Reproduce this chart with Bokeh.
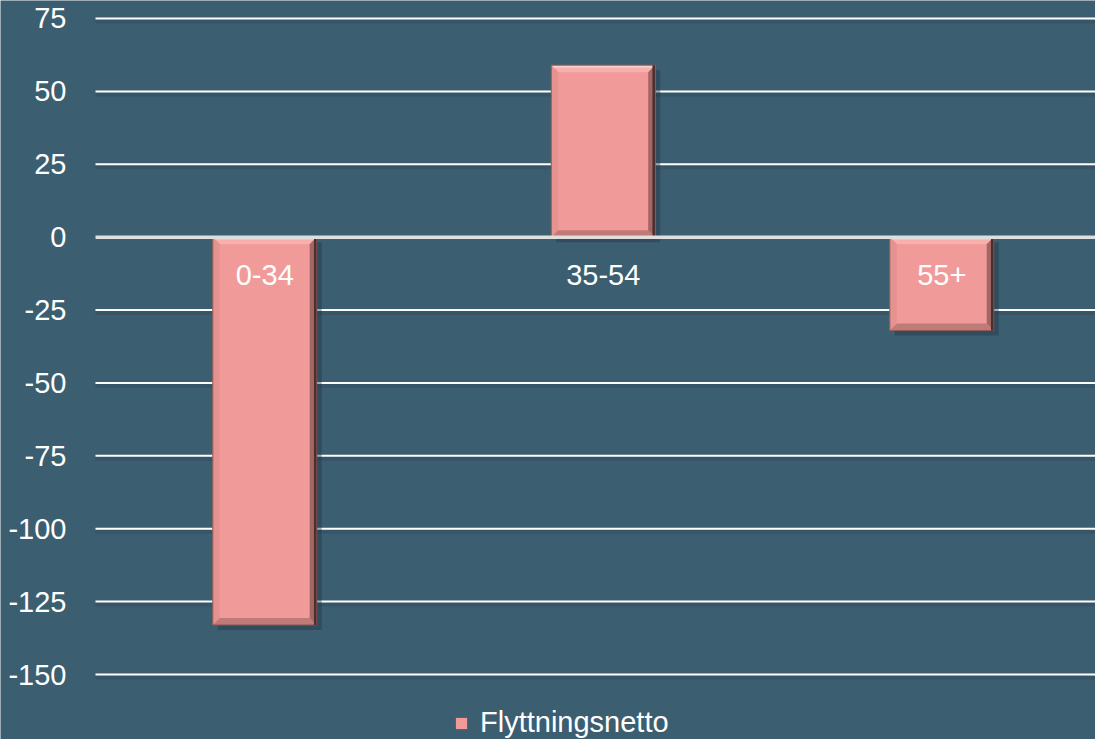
import re
from bokeh.plotting import figure
from bokeh.models import Range1d, Legend, LegendItem, Span
from bokeh.embed import file_html
from bokeh.resources import INLINE
from bokeh.core.properties import value

# ---- data ----
categories = ["0-34", "35-54", "55+"]
values = [-133, 59, -32]
series_name = "Flyttningsnetto"
y_ticks = [75, 50, 25, 0, -25, -50, -75, -100, -125, -150]
y_tick_labels = ["75", "50", "25", "0", "-25", "-50", "-75", "-100", "-125", "-150"]

BG = "#3c5e71"
BAR = "#f09b99"
FONT = "Liberation Sans"

W, H = 1095, 739
AXIS_PX = 95          # room for the tick labels, left of the plotting area
cat_px = 338.5        # pixels per category
px_per_x = cat_px
x_start = -AXIS_PX / cat_px
x_end = (W - AXIS_PX) / cat_px
y_top, y_bot = 81.17, -172.29
px_per_y = H / (y_top - y_bot)

p = figure(width=W, height=H, output_backend="svg", toolbar_location=None,
           x_range=Range1d(x_start, x_end), y_range=Range1d(y_bot, y_top),
           x_axis_location=None, y_axis_location=None,
           min_border_left=0, min_border_right=0, min_border_top=0, min_border_bottom=0)
p.background_fill_color = BG
p.border_fill_color = BG
p.outline_line_color = None
p.xgrid.visible = False
p.ygrid.visible = False

# gridlines + shadows
grid_y = [t for t in y_ticks if t != 0]
p.segment(x0=[0] * len(grid_y), x1=[x_end] * len(grid_y),
          y0=[t - 3 / px_per_y for t in grid_y], y1=[t - 3 / px_per_y for t in grid_y],
          line_color="#2c4756", line_alpha=0.35, line_width=4, level="underlay")
p.segment(x0=[0] * len(grid_y), x1=[x_end] * len(grid_y), y0=grid_y, y1=grid_y,
          line_color="white", line_width=2, level="underlay")

# tick labels
p.text(x=[0] * len(y_ticks), y=y_ticks, text=y_tick_labels, text_align="right",
       text_baseline="middle", x_offset=-29, text_color="white",
       text_font=value(FONT), text_font_size="29px")

xs = [i + 0.5 for i in range(len(categories))]
bw = 0.307
tops = [max(0, v) for v in values]
bots = [min(0, v) for v in values]

# shadows
sx = 5 / px_per_x
sy = 5 / px_per_y
p.quad(left=[x - bw / 2 + sx for x in xs], right=[x + bw / 2 + sx for x in xs],
       top=[t - sy for t in tops], bottom=[b - sy for b in bots],
       fill_color="#1e3340", fill_alpha=0.4, line_color=None)

main = p.vbar(x=xs, width=bw, top=tops, bottom=bots, fill_color=BAR, line_color=None)

# bevels
dx = 7 / px_per_x
dy = 7 / px_per_y
top_x, top_y, right_x, right_y, bot_x, bot_y, left_x, left_y = [], [], [], [], [], [], [], []
for x, t, b in zip(xs, tops, bots):
    l, r = x - bw / 2, x + bw / 2
    top_x.append([l, r, r - dx, l + dx]); top_y.append([t, t, t - dy, t - dy])
    right_x.append([r, r, r - dx, r - dx]); right_y.append([t, b, b + dy, t - dy])
    bot_x.append([l, r, r - dx, l + dx]); bot_y.append([b, b, b + dy, b + dy])
    left_x.append([l, l, l + dx, l + dx]); left_y.append([t, b, b + dy, t - dy])
p.patches(top_x, top_y, fill_color="#f6b1ae", line_color=None)
p.patches(left_x, left_y, fill_color="#e6928f", line_color=None)
p.patches(bot_x, bot_y, fill_color="#c07b78", line_color=None)
p.patches(right_x, right_y, fill_color="#a46664", line_color=None)
# outline
p.quad(left=[x - bw / 2 for x in xs], right=[x + bw / 2 for x in xs],
       top=tops, bottom=bots, fill_color=None, line_color="#8f5b59", line_width=1)
# edge highlights
p.segment(x0=[x - bw / 2 + 2 / px_per_x for x in xs], x1=[x + bw / 2 - 2 / px_per_x for x in xs],
          y0=[t - 1.5 / px_per_y for t in tops], y1=[t - 1.5 / px_per_y for t in tops],
          line_color="#fcd0ce", line_width=1.5)
p.segment(x0=[x + bw / 2 - 1.5 / px_per_x for x in xs], x1=[x + bw / 2 - 1.5 / px_per_x for x in xs],
          y0=tops, y1=bots, line_color="#4a2f2f", line_width=2.5)

# zero line
p.segment(x0=[0], x1=[x_end], y0=[0], y1=[0], line_color="#dedede", line_width=3.5)

# category labels
p.text(x=xs, y=[0] * len(xs), text=categories, text_align="center", text_baseline="middle",
       y_offset=38, text_color="white", text_font=value(FONT), text_font_size="29px")

legend = Legend(items=[LegendItem(label=series_name, renderers=[main])],
                location=(454, 0), orientation="horizontal",
                background_fill_alpha=0, border_line_color=None,
                label_text_color="white", label_text_font=FONT, label_text_font_size="29px",
                glyph_width=14, glyph_height=14, label_standoff=12, padding=0, margin=0, spacing=0)
p.add_layout(legend)

html = file_html(p, INLINE)
html = re.sub(r"<body[^>]*>", '<body style="margin:8px;background:%s;">' % BG, html, count=1)
open("out.html", "w").write(html)
